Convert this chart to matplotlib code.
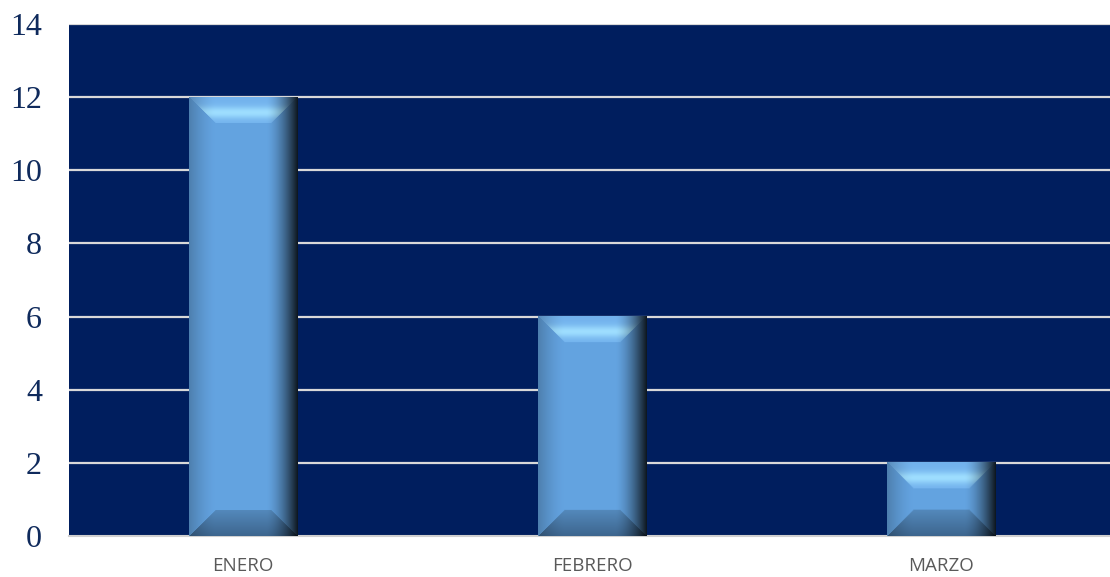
import matplotlib
matplotlib.use("Agg")
import matplotlib.pyplot as plt
import numpy as np

meses = ["ENERO", "FEBRERO", "MARZO"]
valores = [12, 6, 2]
y_ticks = [0, 2, 4, 6, 8, 10, 12, 14]

fondo = "#001e5e"
cara = np.array([0.39, 0.64, 0.88])


def bar_image(w, h, b=26):
    # bevel shading built per pixel
    u = np.arange(w)[None, :].repeat(h, 0).astype(float)
    t = np.arange(h)[:, None].repeat(w, 1).astype(float)
    dl, dr, dt, db = u, w - 1 - u, t, h - 1 - t
    d = np.stack([dl, dr, dt, db])
    reg = d.argmin(0)
    m = d.min(0)
    f = np.clip(m / b, 0, 1)[..., None]
    img = np.ones((h, w, 3)) * cara
    inb = m < b
    # top: light with highlight band
    top = inb & (reg == 2)
    band = np.exp(-((t - 15) / 6.0) ** 2)[..., None]
    col_top = np.array([0.45, 0.70, 0.93]) * (1 - band) + np.array([0.62, 0.87, 1.0]) * band
    img[top] = col_top[top]
    # bottom: darker
    bot = inb & (reg == 3)
    col_bot = np.array([0.24, 0.40, 0.56]) * (1 - f) + np.array([0.33, 0.54, 0.74]) * f
    img[bot] = col_bot[bot]
    # horizontal shading: slight on the left, dark on the right
    x = np.arange(w, dtype=float)
    sh = np.ones(w)
    sh -= 0.22 * np.clip(1 - x / 26, 0, 1) ** 1.5
    sh -= 0.85 * np.clip((x - (w - 32)) / 31, 0, 1) ** 1.6
    img = img * sh[None, :, None]
    return np.clip(img, 0, 1)


fig = plt.figure(figsize=(11.1, 5.77), dpi=100)
ax = fig.add_axes([68.5 / 1110, 41 / 577, 1047 / 1110, 512 / 577])
ax.set_facecolor(fondo)

for v in y_ticks[1:]:
    ax.axhline(v, color="#d9d9d9", lw=1.6, zorder=1)

ancho = 0.31
px_x = 1047 / len(meses)
px_y = 512 / 14
for i, v in enumerate(valores):
    w = int(round(ancho * px_x))
    h = int(round(v * px_y))
    ax.imshow(bar_image(w, h), extent=(i - ancho / 2, i + ancho / 2, 0, v),
              aspect="auto", interpolation="bilinear", zorder=3)

ax.set_xlim(-0.5, len(meses) - 0.5)
ax.set_ylim(0, 14)
ax.set_xticks(range(len(meses)))
ax.set_xticklabels(meses, fontfamily="Open Sans", fontsize=13.5, color="#595959")
ax.set_yticks(y_ticks)
ax.set_yticklabels([str(v) for v in y_ticks], fontfamily="Liberation Serif",
                   fontsize=23, color="#0f2a5c")
ax.tick_params(axis="both", length=0)
ax.tick_params(axis="y", pad=19)
ax.tick_params(axis="x", pad=15)
for s in ["top", "right", "left"]:
    ax.spines[s].set_visible(False)
ax.spines["bottom"].set_color("#d0d0d0")
ax.spines["bottom"].set_linewidth(1.5)

fig.savefig("out.png", dpi=100)
